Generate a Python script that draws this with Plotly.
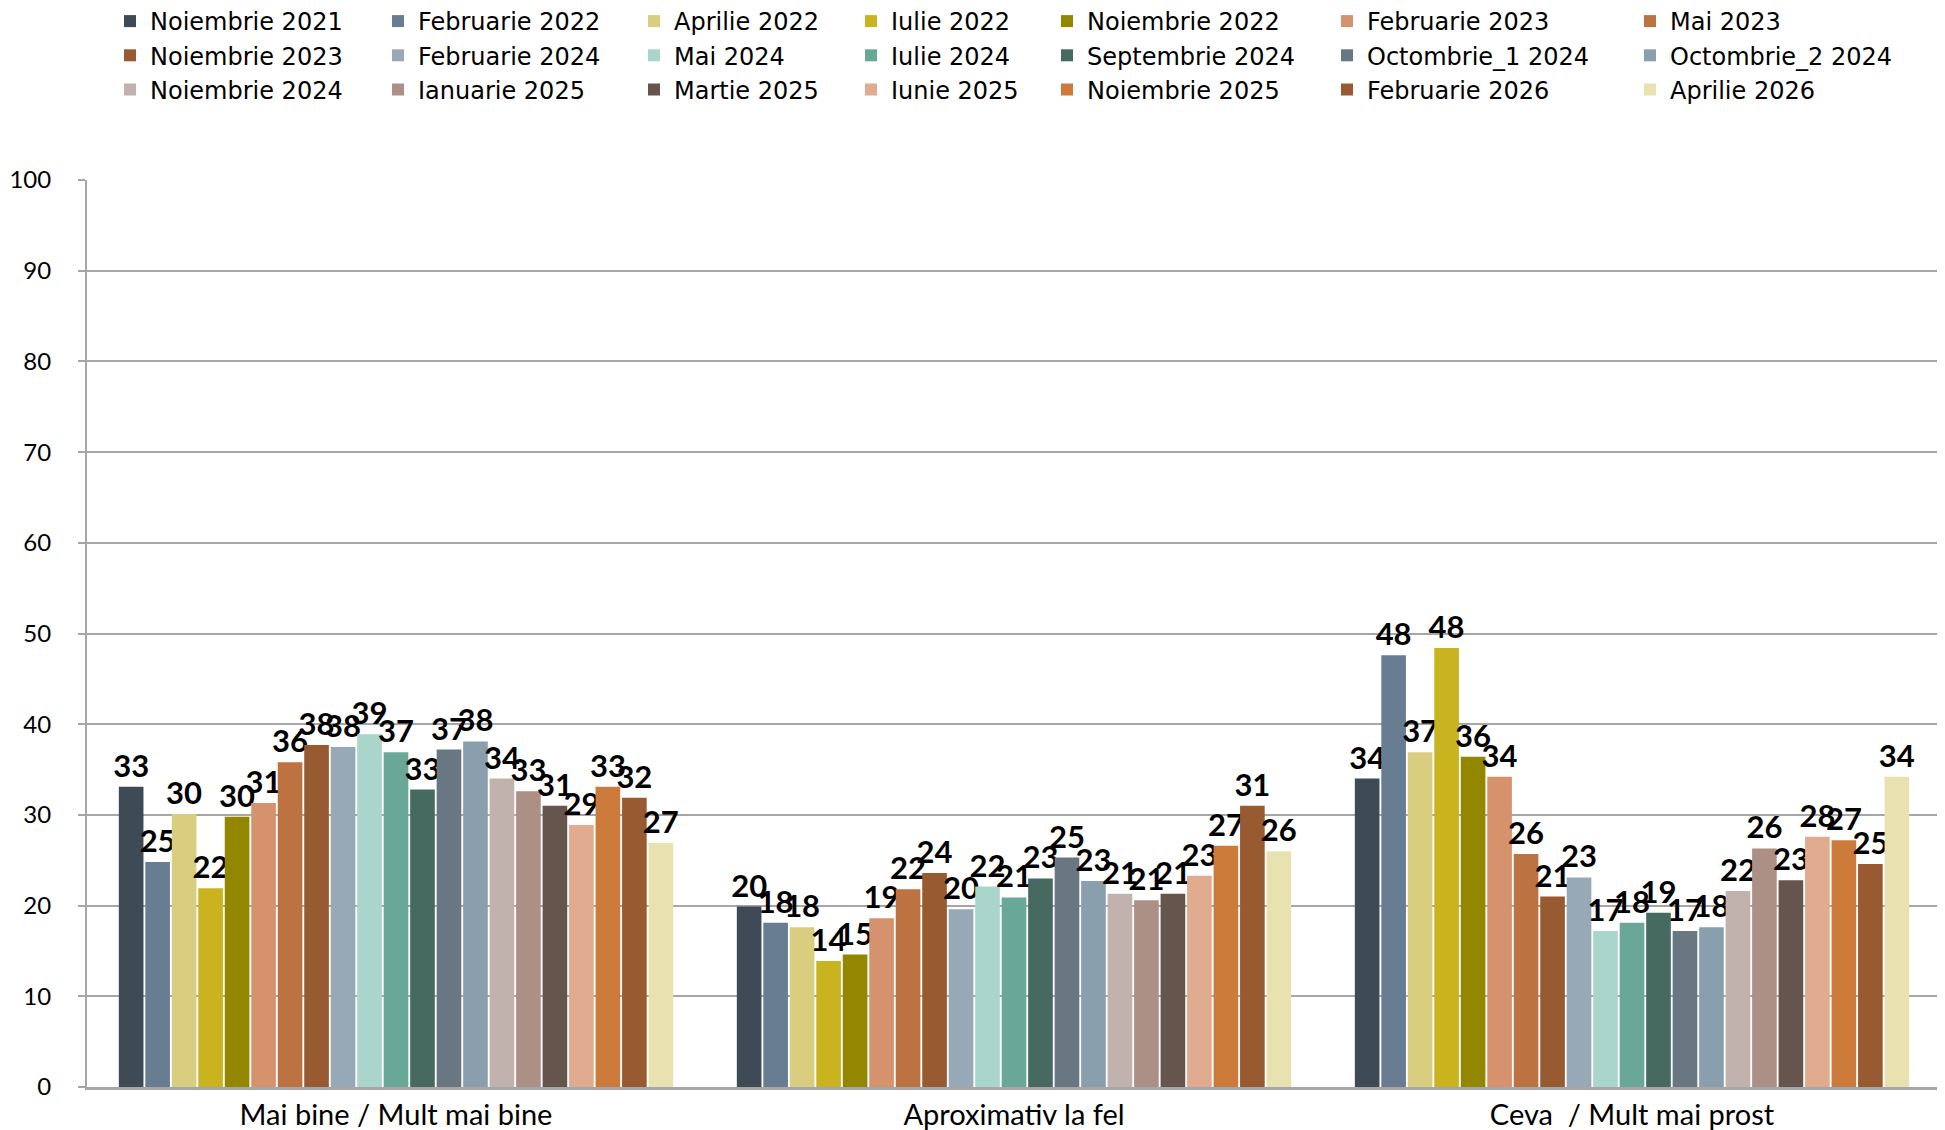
import plotly.graph_objects as go

categories = ["Mai bine / Mult mai bine", "Aproximativ la fel", "Ceva\u00a0 / Mult mai prost"]

series = [
    "Noiembrie 2021", "Februarie 2022", "Aprilie 2022", "Iulie 2022", "Noiembrie 2022",
    "Februarie 2023", "Mai 2023", "Noiembrie 2023", "Februarie 2024", "Mai 2024",
    "Iulie 2024", "Septembrie 2024", "Octombrie_1 2024", "Octombrie_2 2024",
    "Noiembrie 2024", "Ianuarie 2025", "Martie 2025", "Iunie 2025", "Noiembrie 2025",
    "Februarie 2026", "Aprilie 2026",
]

colors = [
    "#3e4a56", "#687d92", "#d9ce80", "#c9b420", "#938600",
    "#d5926d", "#bd7241", "#985b31", "#97a9b7", "#aad5ca",
    "#69a797", "#466a60", "#687782", "#8a9fae",
    "#c2b2ad", "#ac9086", "#66554d", "#e0ab8f", "#cd7b3b",
    "#975a31", "#e8e2b0",
]

mai_bine = [33.1, 24.8, 30.1, 21.9, 29.8, 31.3, 35.8, 37.7, 37.5, 38.9, 36.9,
            32.8, 37.2, 38.1, 34.0, 32.6, 31.0, 28.9, 33.1, 31.9, 26.9]
aprox = [19.9, 18.1, 17.6, 13.9, 14.6, 18.6, 21.8, 23.6, 19.6, 22.1, 20.9,
         23.0, 25.3, 22.7, 21.3, 20.6, 21.3, 23.3, 26.6, 31.0, 26.0]
mai_prost = [34.0, 47.6, 36.9, 48.4, 36.4, 34.2, 25.7, 21.0, 23.1, 17.2, 18.1,
             19.2, 17.2, 17.6, 21.6, 26.3, 22.8, 27.6, 27.2, 24.6, 34.2]

FONT = "Lato, Calibri, Arial, sans-serif"
LEG_FONT = "DejaVu Sans, Arial, sans-serif"
GRID = "#a6a6a6"

# page body has an 8px margin, so everything below is placed 8px up/left
T, B, L, R = 172, 51, 79, 12
legend_x = [102, 370, 626, 843, 1039, 1319, 1622]

fig = go.Figure()
for i, name in enumerate(series):
    col = i % 7
    fig.add_trace(go.Bar(
        x=categories,
        y=[mai_bine[i], aprox[i], mai_prost[i]],
        name=name,
        marker=dict(color=colors[i], line=dict(width=0)),
        texttemplate="%{y:.0f}",
        textposition="outside",
        textfont=dict(family=FONT, size=31, color="black", weight="bold"),
        constraintext="none",
        cliponaxis=False,
        legend="legend" if col == 0 else f"legend{col + 1}",
    ))

plot_h = 1130 - T - B
layout_legends = {}
for col, lx in enumerate(legend_x):
    key = "legend" if col == 0 else f"legend{col + 1}"
    layout_legends[key] = dict(
        xref="container", yref="paper",
        x=lx / 1945, y=1 + (T + 9) / plot_h, xanchor="left", yanchor="top",
        orientation="v", tracegroupgap=0,
        bgcolor="rgba(0,0,0,0)",
        font=dict(family=LEG_FONT, size=24, color="black"),
    )

fig.update_layout(
    barmode="group",
    bargap=0.10,
    bargroupgap=0.07,
    width=1945, height=1130,
    margin=dict(l=L, r=R, t=T, b=B, autoexpand=False),
    plot_bgcolor="white",
    paper_bgcolor="white",
    font=dict(family=FONT, size=24, color="black"),
    **layout_legends,
)
fig.update_yaxes(
    range=[0, 100], dtick=10,
    showgrid=True, gridcolor=GRID, gridwidth=2,
    showline=True, linecolor=GRID, linewidth=2,
    ticks="outside", ticklen=7, tickcolor=GRID, tickwidth=2,
    tickfont=dict(family=FONT, size=24, color="black"),
    ticklabelstandoff=22,
    zeroline=False,
)
fig.update_xaxes(
    type="category",
    showline=True, linecolor=GRID, linewidth=3,
    tickfont=dict(family=FONT, size=29, color="black"),
    ticks="",
)

fig.write_html("out.html")
